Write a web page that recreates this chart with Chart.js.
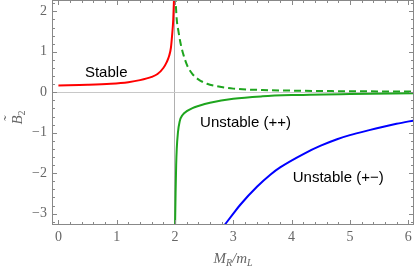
<!DOCTYPE html>
<html>
<head>
<meta charset="utf-8">
<script src="https://cdn.jsdelivr.net/npm/chart.js@4/dist/chart.umd.min.js"></script>
<style>
  html, body { margin: 0; padding: 0; background: #fff; }
  #wrap { width: 415px; height: 275px; position: relative; }
</style>
</head>
<body>
<div id="wrap"><canvas id="Chart"></canvas></div>
<script>
// tick labels
const xTicks = [0, 1, 2, 3, 4, 5, 6];
const yTicks = [-3, -2, -1, 0, 1, 2];

// Stable (red)
const stableX = [0, 0.5, 0.9, 1.2, 1.4, 1.6, 1.7, 1.8, 1.86, 1.9, 1.93, 1.95, 1.97, 1.985];
const stableY = [0.17, 0.185, 0.21, 0.25, 0.30, 0.38, 0.45, 0.6, 0.75, 0.9, 1.1, 1.4, 1.8, 2.4];

// green dashed branch
const dashX = [2.005, 2.03, 2.06, 2.09, 2.14, 2.21, 2.3, 2.4, 2.55, 2.75, 3.0, 3.5, 4, 5, 6.1];
const dashY = [2.4, 1.8, 1.5, 1.25, 0.95, 0.66, 0.45, 0.32, 0.21, 0.14, 0.09, 0.055, 0.04, 0.025, 0.02];

// Unstable (++) (green solid)
const ppX = [2.0, 2.01, 2.02, 2.03, 2.05, 2.08, 2.13, 2.21, 2.3, 2.4, 2.6, 3.0, 3.5, 4, 5, 6.1];
const ppY = [-3.4, -2.5, -1.8, -1.4, -1.0, -0.72, -0.56, -0.46, -0.39, -0.34, -0.26, -0.16, -0.1, -0.07, -0.04, -0.025];

// Unstable (+-) (blue)
const pmX = [2.84, 3.0, 3.12, 3.41, 3.64, 3.81, 4.21, 4.5, 4.78, 5.0, 5.35, 5.52, 5.8, 6.12];
const pmY = [-3.3, -3.0, -2.78, -2.33, -2.03, -1.85, -1.52, -1.32, -1.16, -1.06, -0.93, -0.87, -0.78, -0.69];

// curve labels, placed in data units
const notes = [
  { text: "Stable", x: 0.82, y: 0.49 },
  { text: "Unstable (++)", x: 3.21, y: -0.75 },
  { text: "Unstable (+\u2212)", x: 4.8, y: -2.11 },
];

function pts(xs, ys) {
  return xs.map((x, i) => ({ x: x, y: ys[i] }));
}

const tickFont = { family: "'Liberation Serif', 'DejaVu Serif', serif", size: 14 };
const grey = "#666";

function tickLabel(v) {
  return v < 0 ? "\u2212" + Math.abs(v) : String(v);
}

// frame, inner ticks, axis titles and curve labels
const framePlugin = {
  id: "frame",
  afterDraw(chart) {
    const c = chart.ctx;
    const a = chart.chartArea;
    const xs = chart.scales.x;
    const ys = chart.scales.y;
    c.save();
    c.strokeStyle = "#888";
    c.lineWidth = 1;
    c.strokeRect(a.left + 0.5, a.top + 0.5, a.right - a.left - 1, a.bottom - a.top - 1);

    c.beginPath();
    for (let k = Math.ceil(xs.min / 0.2); k * 0.2 <= xs.max + 1e-9; k++) {
      const v = k * 0.2;
      const len = k % 5 === 0 ? 5 : 3;
      const px = Math.round(xs.getPixelForValue(v)) + 0.5;
      c.moveTo(px, a.bottom); c.lineTo(px, a.bottom - len);
      c.moveTo(px, a.top); c.lineTo(px, a.top + len);
    }
    for (let k = Math.ceil(ys.min / 0.2); k * 0.2 <= ys.max + 1e-9; k++) {
      const v = k * 0.2;
      const len = k % 5 === 0 ? 5 : 3;
      const py = Math.round(ys.getPixelForValue(v)) + 0.5;
      c.moveTo(a.left, py); c.lineTo(a.left + len, py);
      c.moveTo(a.right, py); c.lineTo(a.right - len, py);
    }
    c.stroke();

    // curve labels
    c.fillStyle = "#000";
    c.font = "15px 'Liberation Sans', Arial, sans-serif";
    c.textAlign = "center";
    c.textBaseline = "middle";
    notes.forEach((n) => {
      c.fillText(n.text, xs.getPixelForValue(n.x), ys.getPixelForValue(n.y));
    });

    // x title  M_R/m_L
    c.fillStyle = grey;
    c.textBaseline = "alphabetic";
    c.textAlign = "left";
    const big = "italic 15px 'Liberation Serif', serif";
    const small = "italic 10px 'Liberation Serif', serif";
    const parts = [["M", big, 0], ["R", small, 3], ["/m", big, 0], ["L", small, 3]];
    let w = 0;
    parts.forEach((p) => { c.font = p[1]; w += c.measureText(p[0]).width; });
    let x0 = (a.left + a.right) / 2 - w / 2;
    const base = 263;
    parts.forEach((p) => {
      c.font = p[1];
      c.fillText(p[0], x0, base + p[2]);
      x0 += c.measureText(p[0]).width;
    });

    // y title  B~_2 (rotated)
    c.translate(22, (a.top + a.bottom) / 2 + 5);
    c.rotate(-Math.PI / 2);
    c.font = big;
    const bw = c.measureText("B").width;
    c.font = "10px 'Liberation Serif', serif";
    const sw = c.measureText("2").width;
    let yx = -(bw + sw) / 2;
    c.font = big;
    c.fillText("B", yx, 0);
    c.fillText("\u02dc", yx + 3, -8);
    c.font = "10px 'Liberation Serif', serif";
    c.fillText("2", yx + bw, 3);
    c.restore();
  },
};

const ctx = document.getElementById("Chart").getContext("2d");
const myChart = new Chart(ctx, {
  type: "line",
  data: {
    datasets: [
      {
        label: "Stable",
        data: pts(stableX, stableY),
        borderColor: "#ff0000",
        borderWidth: 2,
      },
      {
        label: "dashed",
        data: pts(dashX, dashY),
        borderColor: "#1ea51e",
        borderWidth: 2,
        borderDash: [7, 4],
      },
      {
        label: "Unstable (++)",
        data: pts(ppX, ppY),
        borderColor: "#1ea51e",
        borderWidth: 2,
      },
      {
        label: "Unstable (+-)",
        data: pts(pmX, pmY),
        borderColor: "#0000ff",
        borderWidth: 2,
      },
    ],
  },
  options: {
    responsive: true,
    maintainAspectRatio: false,
    animation: false,
    events: [],
    elements: {
      point: { radius: 0 },
      line: { cubicInterpolationMode: "monotone", fill: false },
    },
    layout: { padding: { top: 0, right: 1, left: 0, bottom: 0 } },
    plugins: { legend: { display: false }, tooltip: { enabled: false } },
    scales: {
      x: {
        type: "linear",
        min: -0.11,
        max: 6.1,
        afterBuildTicks: (s) => { s.ticks = xTicks.map((v) => ({ value: v })); },
        afterFit: (s) => { s.height = 50; s.paddingLeft = 0; s.paddingRight = 0; },
        ticks: { font: tickFont, color: grey, padding: 4, maxRotation: 0, callback: tickLabel },
        grid: {
          drawTicks: false,
          lineWidth: 1,
          color: (c) => (c.tick && c.tick.value === 2 ? "#b0b0b0" : "rgba(0,0,0,0)"),
        },
        border: { display: false },
      },
      y: {
        type: "linear",
        min: -3.28,
        max: 2.28,
        afterBuildTicks: (s) => { s.ticks = yTicks.map((v) => ({ value: v })); },
        afterFit: (s) => { s.width = 52; s.paddingTop = 0; s.paddingBottom = 0; },
        ticks: { font: tickFont, color: grey, padding: 5, callback: tickLabel },
        grid: {
          drawTicks: false,
          lineWidth: 1,
          color: (c) => (c.tick && c.tick.value === 0 ? "#c8c8c8" : "rgba(0,0,0,0)"),
        },
        border: { display: false },
      },
    },
  },
  plugins: [framePlugin],
});
</script>
</body>
</html>
